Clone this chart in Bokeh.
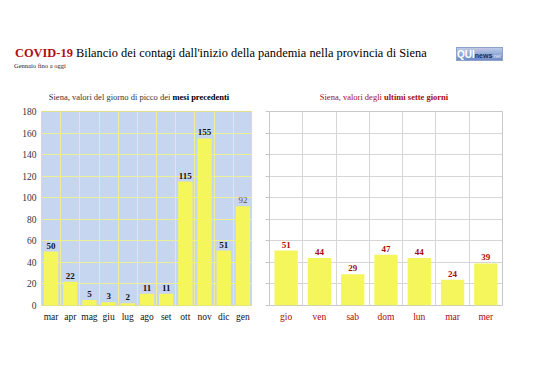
from bokeh.plotting import figure
from bokeh.layouts import column, row
from bokeh.models import (ColumnDataSource, Range1d, FixedTicker, CustomJSTickFormatter, Div)
from bokeh.core.properties import value
from bokeh.embed import file_html
from bokeh.resources import INLINE

# ---- data ----
months = ["mar", "apr", "mag", "giu", "lug", "ago", "set", "ott", "nov", "dic", "gen"]
peak_values = [50, 22, 5, 3, 2, 11, 11, 115, 155, 51, 92]
days = ["gio", "ven", "sab", "dom", "lun", "mar", "mer"]
week_values = [51, 44, 29, 47, 44, 24, 39]
y_ticks = [0, 20, 40, 60, 80, 100, 120, 140, 160, 180]

SERIF = "Liberation Serif"
YELLOW = "#f5f55c"
DARKRED = "#a80c0c"

header = Div(width=522, height=68, text=f"""
<div style="position:relative;width:522px;height:68px;font-family:'{SERIF}';">
  <div style="position:absolute;left:10px;top:41px;white-space:nowrap;font-size:12.4px;line-height:15px;color:#000;">
    <span style="color:#b00d0d;font-weight:bold;">COVID-19</span> Bilancio dei contagi dall'inizio della pandemia nella provincia di Siena
  </div>
  <div style="position:absolute;left:9px;top:57px;white-space:nowrap;font-size:6.5px;line-height:8px;color:#222;">Gennaio fino a oggi</div>
  <div style="position:absolute;left:451px;top:42px;width:47px;height:14px;box-sizing:border-box;background:linear-gradient(#bccbe8,#6e8cc4);border:1px solid #8fa3c9;font-family:'Liberation Sans';line-height:12px;white-space:nowrap;overflow:hidden;">
    <span style="color:#fff;font-weight:bold;font-size:10px;">QUI</span><span style="color:#1b2b5a;font-weight:bold;font-size:7px;">news</span><span style="color:#e4ecf9;font-size:5px;">.net</span>
  </div>
</div>""")

sub_left = Div(width=252, height=16, text=f"""
<div style="position:relative;width:252px;height:16px;font-family:'{SERIF}';">
 <div style="position:absolute;left:0;top:9px;width:268px;text-align:center;white-space:nowrap;font-size:8.5px;line-height:10px;color:#333;">
 Siena, valori del giorno di picco dei <b style="color:#000;">mesi precedenti</b></div></div>""")

sub_right = Div(width=250, height=16, text=f"""
<div style="position:relative;width:250px;height:16px;font-family:'{SERIF}';">
 <div style="position:absolute;left:0;top:9px;width:234px;text-align:center;white-space:nowrap;font-size:8.5px;line-height:10px;color:{DARKRED};">
 Siena, valori degli <b>ultimi sette giorni</b></div></div>""")


def make_chart(cats, vals, width, mb_left, mb_right, bg, grid_color, outline_color,
               axis_color, xlabel_color, show_ylabels, bar_width):
    n = len(cats)
    p = figure(width=width, height=226, output_backend="svg", toolbar_location=None,
               x_range=Range1d(0, n), y_range=Range1d(0, 180),
               min_border_left=mb_left, min_border_right=mb_right,
               min_border_top=7, min_border_bottom=25)
    p.background_fill_color = bg
    p.border_fill_color = "white"
    p.outline_line_color = outline_color
    p.outline_line_width = 1
    xs = [i + 0.5 for i in range(n)]
    p.vbar(x=xs, top=vals, width=bar_width, bottom=0, fill_color=YELLOW, line_color=None)

    p.xaxis.ticker = FixedTicker(ticks=xs)
    p.xaxis.formatter = CustomJSTickFormatter(args=dict(labels=cats),
        code="const i = Math.floor(tick); return (i >= 0 && i < labels.length) ? labels[i] : '';")
    p.xaxis.major_tick_line_color = None
    p.xaxis.minor_tick_line_color = None
    p.xaxis.axis_line_color = None
    p.xaxis.major_label_text_font = SERIF
    p.xaxis.major_label_text_font_size = "9.5px"
    p.xaxis.major_label_text_color = xlabel_color
    p.xaxis.major_label_standoff = 0

    p.yaxis.ticker = FixedTicker(ticks=y_ticks)
    p.yaxis.minor_tick_line_color = None
    p.yaxis.axis_line_color = axis_color
    p.yaxis.major_tick_line_color = axis_color
    p.yaxis.major_tick_in = 0
    p.yaxis.major_label_text_font = SERIF
    p.yaxis.major_label_text_font_size = "9.5px"
    p.yaxis.major_label_text_color = "#333333"
    if show_ylabels:
        p.yaxis.major_tick_out = 0
        p.yaxis.major_label_standoff = 5
    else:
        p.yaxis.major_tick_out = 4
        p.yaxis.major_label_text_font_size = "0px"
        p.yaxis.major_label_text_color = None
        p.yaxis.major_label_standoff = 0

    p.xgrid.ticker = FixedTicker(ticks=list(range(n + 1)))
    p.xgrid.grid_line_color = grid_color
    p.ygrid.ticker = FixedTicker(ticks=y_ticks)
    p.ygrid.grid_line_color = grid_color
    return p, xs


left, lxs = make_chart(months, peak_values, 252, 41, 0, "#c7d6f0", "#eeee96", "#e0e08a",
                       "#e0e08a", "#111111", True, 0.75)
src_bold = ColumnDataSource(dict(x=lxs[:-1], y=peak_values[:-1], t=[str(v) for v in peak_values[:-1]]))
src_norm = ColumnDataSource(dict(x=lxs[-1:], y=peak_values[-1:], t=[str(v) for v in peak_values[-1:]]))
left.text(x="x", y="y", text="t", source=src_bold, text_align="center", text_baseline="bottom",
          y_offset=-3, text_font=value(SERIF), text_font_size="9px", text_font_style="bold",
          text_color="#111111")
left.text(x="x", y="y", text="t", source=src_norm, text_align="center", text_baseline="bottom",
          y_offset=-3, text_font=value(SERIF), text_font_size="9px", text_font_style="normal",
          text_color="#555555")

right, rxs = make_chart(days, week_values, 250, 7, 10, "white", "#d6d6d6", "#c8c8c8",
                        "#c8c8c8", DARKRED, False, 0.7)
src_r = ColumnDataSource(dict(x=rxs, y=week_values, t=[str(v) for v in week_values]))
right.text(x="x", y="y", text="t", source=src_r, text_align="center", text_baseline="bottom",
           y_offset=-3, text_font=value(SERIF), text_font_size="9px", text_font_style="bold",
           text_color=DARKRED)

layout = column(header, row(column(sub_left, left), column(sub_right, right)))

open("out.html", "w").write(file_html(layout, INLINE))
